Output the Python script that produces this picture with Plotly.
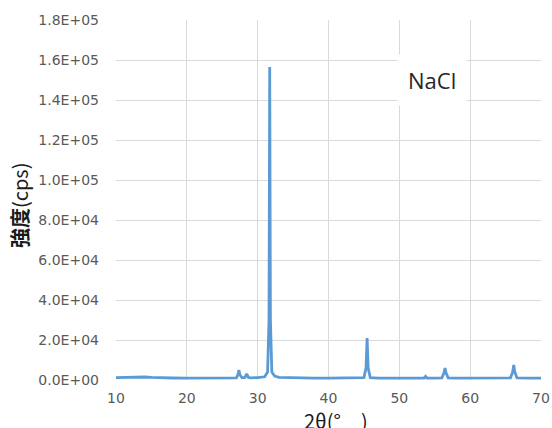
import plotly.graph_objects as go

# 2θ positions (degrees) and intensities (cps)
two_theta = [10, 11, 12, 13, 14, 15, 16, 18, 20, 22, 24, 26,
             27.0, 27.2, 27.35, 27.5, 27.8, 28.2, 28.45, 28.7, 29.0, 30.0,
             31.0, 31.4, 31.6, 31.7, 31.8, 32.0, 32.4, 33.0, 35.0, 38.0,
             40.0, 42.0, 44.0, 45.0, 45.3, 45.45, 45.6, 45.9, 47.0, 50.0,
             52.0, 53.5, 53.7, 53.9, 55.0, 56.0, 56.3, 56.45, 56.6, 56.9,
             58.0, 60.0, 62.0, 64.0, 65.7, 66.0, 66.15, 66.3, 66.6, 68.0, 70.0]
intensity = [1200, 1300, 1500, 1600, 1500, 1300, 1100, 1000, 900, 900, 900, 1000,
             1100, 2500, 5000, 2500, 1100, 1300, 3000, 1300, 1100, 1200,
             1600, 4000, 30000, 156500, 30000, 4000, 2000, 1300, 1000, 900,
             900, 900, 1000, 1200, 6000, 21000, 6000, 1200, 900, 900,
             900, 1000, 1800, 1000, 900, 1100, 3500, 6000, 3500, 1100,
             900, 900, 900, 900, 1100, 4000, 7500, 4000, 1100, 900, 900]

y_tickvals = [0, 20000, 40000, 60000, 80000, 100000, 120000, 140000, 160000, 180000]
y_ticktext = ["0.0E+00", "2.0E+04", "4.0E+04", "6.0E+04", "8.0E+04",
              "1.0E+05", "1.2E+05", "1.4E+05", "1.6E+05", "1.8E+05"]
x_tickvals = [10, 20, 30, 40, 50, 60, 70]

fig = go.Figure()
fig.add_trace(go.Scatter(x=two_theta, y=intensity, mode="lines",
                         line=dict(color="#5B9BD5", width=2.8),
                         showlegend=False))

grid = "#d9d9d9"
tickfont = dict(family="DejaVu Sans, sans-serif", size=14, color="#595959")
fig.update_layout(
    width=552, height=428,
    margin=dict(l=116, r=11, t=20, b=48, autoexpand=False),
    paper_bgcolor="white", plot_bgcolor="white",
    xaxis=dict(range=[10, 70], tickvals=x_tickvals, showgrid=True,
               gridcolor=grid, gridwidth=1, zeroline=False, showline=False,
               ticks="", tickfont=tickfont, ticklabelstandoff=8),
    yaxis=dict(range=[0, 180000], tickvals=y_tickvals, ticktext=y_ticktext,
               showgrid=True, gridcolor=grid, gridwidth=1, zeroline=False,
               showline=False, ticks="", tickfont=tickfont, ticklabelstandoff=16),
    annotations=[
        dict(text="NaCl", xref="paper", yref="paper", x=(432 - 116) / 425,
             y=(380 - 80) / 360, xanchor="center", yanchor="middle",
             showarrow=False, bgcolor="white", borderpad=10,
             font=dict(family="Open Sans, sans-serif", size=22, color="#262626")),
        dict(text="<b>強度</b>(cps)", xref="paper", yref="paper", x=(20 - 116) / 425,
             y=(380 - 206) / 360, xanchor="center", yanchor="middle",
             showarrow=False, textangle=-90,
             font=dict(family="Noto Sans CJK JP", size=20, color="#1a1a1a")),
        dict(text="2θ(°\u3000)", xref="paper", yref="paper", x=(336 - 116) / 425,
             y=(380 - 420) / 360, xanchor="center", yanchor="middle",
             showarrow=False,
             font=dict(family="Noto Sans CJK JP", size=20, color="#1a1a1a")),
    ],
)

fig.write_html("out.html", config={"displayModeBar": False},
               post_script="document.body.style.margin='0';document.body.style.padding='0';")
